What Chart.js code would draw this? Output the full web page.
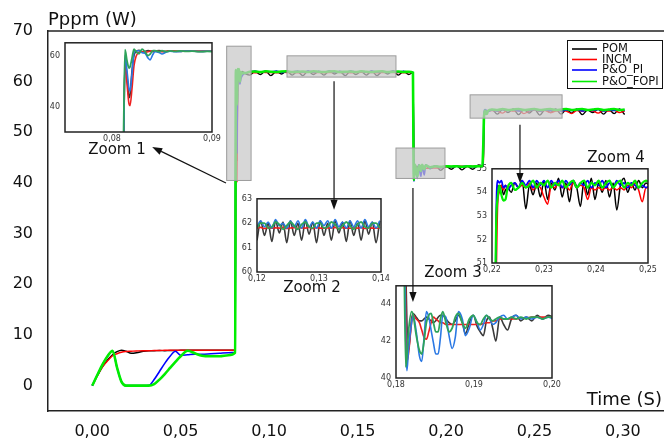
<!DOCTYPE html>
<html>
<head>
<meta charset="utf-8">
<script src="https://cdn.jsdelivr.net/npm/chart.js@4.4.1/dist/chart.umd.min.js"></script>
<style>
html, body { margin: 0; padding: 0; background: #fff; overflow: hidden; }
#wrap { position: relative; width: 664px; height: 439px; overflow: hidden; }
.inset { position: absolute; z-index: 1; }
#main { position: absolute; left: 0; top: 0; z-index: 2; }
</style>
</head>
<body>
<div id="wrap">
  <canvas id="z1" class="inset"></canvas>
  <canvas id="z2" class="inset"></canvas>
  <canvas id="z3" class="inset"></canvas>
  <canvas id="z4" class="inset"></canvas>
  <canvas id="main" width="680" height="439"></canvas>
</div>
<script>
(function () {

  "use strict";

  var seriesNames = ['POM', 'INCM', 'P&O_PI', 'P&O_FOPI'];

  // main chart ticks
  var xTicks = [0, 0.05, 0.10, 0.15, 0.20, 0.25, 0.30];
  var yTicks = [0, 10, 20, 30, 40, 50, 60, 70];

  // main chart, time (s)
  var mT = [
    0, 0.003, 0.006, 0.009, 0.0115, 0.014, 0.0165, 0.019, 0.022, 0.025, 0.029, 0.032, 0.035, 0.038, 0.041, 0.044, 0.047, 0.050, 0.054, 0.058, 0.062, 0.067, 0.072, 0.077, 0.0808,
    0.0812, 0.0815, 0.0818, 0.0822, 0.0826, 0.0830, 0.0835, 0.0840, 0.0848, 0.0856, 0.0865,
    0.089, 0.092, 0.095, 0.098, 0.101, 0.104, 0.107, 0.110, 0.113, 0.116, 0.119, 0.122, 0.125, 0.128, 0.131, 0.134, 0.137, 0.140, 0.143, 0.146, 0.149, 0.152, 0.155, 0.158, 0.161, 0.164, 0.167, 0.170, 0.173, 0.176, 0.179,
    0.1813, 0.1816, 0.18175, 0.1819, 0.1821, 0.1825, 0.1831, 0.1838, 0.1844, 0.1850, 0.1858, 0.1865, 0.1877, 0.1885,
    0.191, 0.194, 0.197, 0.200, 0.203, 0.206, 0.209, 0.212, 0.215, 0.218, 0.2205,
    0.2211, 0.2214, 0.2217, 0.2220, 0.2224, 0.2228, 0.2232, 0.2236,
    0.226, 0.229, 0.232, 0.235, 0.238, 0.241, 0.244, 0.247, 0.250, 0.253, 0.256, 0.259, 0.262, 0.265, 0.268, 0.271, 0.274, 0.277, 0.280, 0.283, 0.286, 0.289, 0.292, 0.295, 0.298, 0.301
  ];

  var pom = [
    0, 2.0, 3.8, 5.2, 6.1, 6.7, 7.0, 6.8, 6.4, 6.5, 6.8, 6.9, 6.9, 6.95, 6.9, 6.95, 6.95, 7.0, 7.0, 7.0, 7.0, 7.0, 7.0, 7.0, 7.0,
    59, 52, 44.5, 60, 62, 61.4, 61.8, 61.6, 62, 61.8, 61.6,
    61.3, 62.0, 61.4, 62.1, 61.2, 62.0, 61.5, 62.1, 61.3, 62.0, 61.2, 62.1, 61.4, 62.0, 61.3, 62.1, 61.5, 62.0, 61.2, 62.1, 61.4, 62.0, 61.3, 62.1, 61.2, 62.0, 61.5, 62.1, 61.3, 62.0, 61.4,
    61.8, 52, 46, 43, 41.5, 43.2, 43.3, 43.1, 43.3, 43.1, 43.2, 43.4, 42.9, 43.4,
    42.8, 43.4, 42.5, 43.3, 42.7, 43.4, 42.6, 43.3, 42.7, 43.4, 43.2,
    45, 52, 54.3, 54.2, 54.3, 53.9, 54.1, 54.2,
    54.5, 53.6, 54.5, 53.9, 54.6, 53.5, 54.5, 53.8, 54.6, 53.4, 54.5, 53.9, 54.6, 53.6, 54.5, 53.8, 54.6, 53.5, 54.4, 53.9, 54.6, 53.6, 54.5, 53.7, 54.6, 53.5
  ];

  var incm = [
    0, 2.0, 3.8, 5.0, 5.9, 6.3, 6.6, 6.75, 6.8, 6.85, 6.9, 6.9, 6.95, 6.95, 7.0, 7.0, 7.0, 7.0, 7.0, 7.0, 7.0, 7.0, 7.0, 7.0, 7.0,
    58, 49, 40.3, 56, 61.3, 61.6, 61.4, 61.8, 61.6, 61.8, 61.7,
    61.8, 61.75, 61.85, 61.8, 61.8, 61.75, 61.85, 61.8, 61.8, 61.75, 61.8, 61.85, 61.8, 61.8, 61.75, 61.8, 61.85, 61.8, 61.8, 61.75, 61.8, 61.85, 61.8, 61.8, 61.75, 61.8, 61.85, 61.8, 61.8, 61.75, 61.8,
    61.8, 52, 44, 40.9, 41.3, 43.0, 43.2, 42.6, 42.1, 43.0, 43.1, 43.0, 42.9, 42.9,
    42.9, 42.95, 43.0, 43.2, 43.25, 43.3, 43.3, 43.25, 43.3, 43.3, 43.3,
    44, 50, 53.5, 54.0, 54.3, 54.1, 54.3, 54.2,
    54.3, 54.2, 53.8, 54.4, 54.2, 54.3, 53.7, 54.2, 54.4, 54.2, 54.3, 53.9, 54.2, 54.3, 54.2, 53.7, 54.3, 54.2, 54.4, 54.2, 53.8, 54.3, 54.2, 54.4, 53.9, 54.2
  ];

  var poPi = [
    0, 2.2, 4.3, 6.0, 6.9, 3.6, 0.8, 0, 0, 0, 0, 0.05, 1.2, 2.8, 4.4, 5.8, 6.8, 6.0, 6.1, 6.2, 6.2, 6.3, 6.4, 6.5, 6.6,
    60, 54, 46, 61.2, 61.9, 61.1, 59.5, 60.5, 61.2, 61.5, 61.7,
    61.9, 62.1, 61.85, 62.05, 61.9, 62.1, 61.8, 62.05, 61.9, 62.1, 61.85, 62.1, 61.9, 62.05, 61.85, 62.1, 61.9, 62.05, 61.8, 62.1, 61.9, 62.05, 61.85, 62.1, 61.9, 62.05, 61.85, 62.1, 61.9, 62.05, 61.9,
    61.8, 50, 42, 40.4, 41.5, 43.0, 42.5, 40.9, 43.6, 42.6, 41.3, 43.4, 41.6, 43.6,
    42.9, 43.4, 43.0, 43.3, 43.2, 43.3, 43.2, 43.35, 43.2, 43.3, 43.3,
    46, 53, 54.5, 54.4, 54.5, 54.2, 54.3, 54.1,
    54.4, 54.2, 54.5, 54.3, 54.5, 54.2, 54.4, 54.3, 54.5, 54.2, 54.4, 54.3, 54.5, 54.2, 54.4, 54.3, 54.5, 54.2, 54.4, 54.3, 54.5, 54.2, 54.4, 54.3, 54.5, 54.3
  ];

  var poFopi = [
    0, 2.2, 4.3, 6.0, 6.9, 3.6, 0.8, 0, 0, 0, 0, 0, 0.3, 1.2, 2.3, 3.5, 4.7, 5.8, 6.9, 6.4, 5.9, 5.8, 5.8, 6.0, 6.5,
    62.3, 58, 55.5, 62.5, 60.7, 62.5, 60.0, 61.9, 61.6, 61.8, 61.7,
    61.95, 62.0, 61.9, 62.05, 61.95, 61.9, 62.0, 62.05, 61.9, 61.95, 62.0, 61.9, 62.05, 61.95, 61.9, 62.0, 62.05, 61.9, 61.95, 62.0, 61.9, 62.05, 61.95, 61.9, 62.0, 62.05, 61.9, 61.95, 62.0, 61.9, 61.95,
    61.8, 46, 40.6, 41.2, 42.5, 43.6, 42.3, 41.3, 43.0, 43.5, 42.4, 43.6, 42.7, 43.5,
    43.1, 43.3, 43.2, 43.3, 43.25, 43.3, 43.2, 43.3, 43.25, 43.3, 43.3,
    48, 52.7, 53.8, 54.3, 53.9, 53.65, 53.7, 54.2,
    54.5, 54.4, 54.6, 54.4, 54.5, 54.6, 54.4, 54.5, 54.6, 54.4, 54.5, 54.6, 54.4, 54.5, 54.6, 54.4, 54.5, 54.6, 54.4, 54.5, 54.6, 54.4, 54.5, 54.6, 54.4, 54.5
  ];

  // zoom 1
  var t1 = [0.0800, 0.0811, 0.0813, 0.0815, 0.0817, 0.0818, 0.0820, 0.0822, 0.0824, 0.0827, 0.0830, 0.0833, 0.0836, 0.0838, 0.0841, 0.0843, 0.0847, 0.0850, 0.0854, 0.0858, 0.0863, 0.0868, 0.0874, 0.0880, 0.0887, 0.0895, 0.0905];
  var pom1 = [7, 7, 59, 52, 43.5, 44.5, 54, 60, 61.6, 62.1, 61.4, 61.6, 62, 61.8, 61.5, 61.8, 62, 61.7, 61.6, 61.9, 61.7, 61.6, 61.8, 61.7, 61.6, 61.7, 61.6];
  var incm1 = [7, 7, 58, 49, 41, 40.3, 47, 56, 59.6, 61.3, 61.6, 61.2, 61.5, 61.7, 61.9, 61.8, 61.6, 61.5, 61.7, 61.9, 61.8, 61.7, 61.8, 61.7, 61.8, 61.7, 61.7];
  var pi1 = [7, 7, 60, 54, 47, 46, 53, 61.2, 61.8, 61.9, 61.1, 60.9, 59, 58.3, 60.5, 61.5, 61.2, 60.6, 61.3, 61.7, 61.5, 61.6, 61.8, 61.7, 61.6, 61.7, 61.7];
  var fopi1 = [7, 20, 62.3, 58, 55.1, 55.5, 59, 62.5, 61.5, 60.7, 62.5, 61.5, 60, 60.5, 61.9, 61.9, 61.5, 61.9, 61.5, 61.8, 61.6, 61.8, 61.6, 61.7, 61.5, 61.6, 61.5];

  // zoom 2
  var t2 = [0.1200, 0.1206, 0.1212, 0.1218, 0.1224, 0.1230, 0.1236, 0.1242, 0.1248, 0.1254, 0.1260, 0.1266, 0.1272, 0.1278, 0.1284, 0.1290, 0.1296, 0.1302, 0.1308, 0.1314, 0.1320, 0.1326, 0.1332, 0.1338, 0.1344, 0.1350, 0.1356, 0.1362, 0.1368, 0.1374, 0.1380, 0.1386, 0.1392, 0.1398];
  var pom2 = [61.3, 62.1, 61.5, 62.0, 61.25, 62.1, 61.6, 62.05, 61.2, 62.1, 61.5, 62.0, 61.3, 62.1, 61.55, 62.05, 61.2, 62.1, 61.5, 62.0, 61.3, 62.1, 61.6, 62.05, 61.25, 62.1, 61.5, 62.0, 61.3, 62.1, 61.55, 62.05, 61.2, 62.1];
  var incm2 = [61.8, 61.83, 61.78, 61.82, 61.79, 61.81, 61.8, 61.83, 61.78, 61.8, 61.82, 61.79, 61.81, 61.8, 61.83, 61.78, 61.82, 61.8, 61.79, 61.81, 61.8, 61.83, 61.78, 61.82, 61.8, 61.79, 61.81, 61.8, 61.83, 61.78, 61.82, 61.8, 61.79, 61.81];
  var pi2 = [61.85, 62.1, 61.85, 62.05, 61.8, 62.15, 61.9, 62.0, 61.8, 62.1, 61.85, 62.1, 61.8, 62.15, 61.85, 62.05, 61.8, 62.1, 61.9, 62.1, 61.8, 62.15, 61.85, 62.05, 61.8, 62.1, 61.85, 62.1, 61.8, 62.15, 61.85, 62.05, 61.8, 62.1];
  var fopi2 = [61.8, 62.0, 62.0, 61.8, 61.85, 62.05, 61.95, 61.75, 61.9, 62.05, 61.9, 61.75, 61.95, 62.05, 61.85, 61.8, 62.0, 62.0, 61.8, 61.85, 62.05, 61.95, 61.75, 61.9, 62.05, 61.9, 61.75, 61.95, 62.05, 61.85, 61.8, 62.0, 62.0, 61.8];

  // zoom 3
  var t3 = [0.1805, 0.1810, 0.18125, 0.1814, 0.1816, 0.1820, 0.1822, 0.1826, 0.1830, 0.1833, 0.1836, 0.1839, 0.1842, 0.1845, 0.1848, 0.1851, 0.1854, 0.1857, 0.1860, 0.1864, 0.1868, 0.1872, 0.1876, 0.1880, 0.1885, 0.1889, 0.1894, 0.1899, 0.1904, 0.1908, 0.1912, 0.1916, 0.1920, 0.1924, 0.1928, 0.1933, 0.1938, 0.1943, 0.1948, 0.1954, 0.1960, 0.1967, 0.1974, 0.1981, 0.1988, 0.1995, 0.2002];
  var pom3 = [61.8, 55, 46, 43, 41.5, 43.2, 43.5, 43.3, 43.1, 43.1, 43.2, 43.3, 43.2, 43.1, 43.0, 43.1, 43.3, 43.4, 43.4, 43.2, 43.0, 42.9, 43.1, 43.4, 43.0, 42.4, 43.0, 43.4, 42.8, 42.5, 42.3, 43.1, 43.3, 42.7, 42.0, 43.3, 42.9, 42.6, 43.2, 43.4, 43.1, 43.3, 43.1, 43.4, 43.2, 43.4, 43.3];
  var incm3 = [61.8, 55, 44, 40.9, 41.3, 43.0, 43.4, 43.2, 43.0, 42.6, 42.2, 42.1, 42.5, 43.0, 43.3, 43.2, 43.1, 43.0, 43.0, 42.9, 42.9, 42.9, 42.9, 42.9, 42.9, 42.9, 42.9, 42.9, 42.9, 42.9, 42.95, 43.0, 43.0, 43.1, 43.1, 43.2, 43.2, 43.2, 43.2, 43.2, 43.25, 43.25, 43.3, 43.3, 43.3, 43.3, 43.3];
  var pi3 = [61.8, 52, 42, 40.4, 41.5, 43.0, 43.4, 42.5, 41.2, 40.9, 42.2, 43.6, 43.3, 42.6, 41.9, 41.3, 41.3, 42.2, 43.4, 43.3, 42.3, 41.6, 42.2, 43.6, 43.2, 42.3, 42.7, 43.4, 43.0, 42.6, 42.9, 43.4, 43.2, 42.9, 43.0, 43.3, 43.4, 43.2, 43.3, 43.4, 43.2, 43.3, 43.2, 43.3, 43.2, 43.3, 43.2];
  var fopi3 = [61.8, 48, 40.6, 41.2, 42.5, 43.6, 43.4, 42.3, 41.5, 41.3, 42.0, 43.0, 43.4, 43.5, 43.0, 42.5, 42.5, 43.2, 43.6, 43.0, 42.5, 42.7, 43.3, 43.5, 43.0, 42.7, 43.2, 43.4, 43.0, 42.9, 43.2, 43.4, 43.2, 43.1, 43.2, 43.3, 43.2, 43.2, 43.3, 43.2, 43.3, 43.2, 43.3, 43.3, 43.2, 43.3, 43.3];

  // zoom 4
  var t4 = [0.2195, 0.2205, 0.2208, 0.2211, 0.2214, 0.2218, 0.2222, 0.2226, 0.2230, 0.2237, 0.2244, 0.2251, 0.2258, 0.2265, 0.2272, 0.2279, 0.2286, 0.2293, 0.2300, 0.2307, 0.2314, 0.2321, 0.2328, 0.2335, 0.2342, 0.2349, 0.2356, 0.2363, 0.2370, 0.2377, 0.2384, 0.2391, 0.2398, 0.2405, 0.2412, 0.2419, 0.2426, 0.2433, 0.2440, 0.2447, 0.2454, 0.2461, 0.2468, 0.2475, 0.2482, 0.2489, 0.2496, 0.2503];
  var pom4 = [43.2, 45, 52, 54.3, 54.2, 54.3, 53.9, 54.1, 54.2, 54.0, 54.4, 54.2, 54.5, 53.3, 54.3, 53.9, 54.4, 53.8, 54.5, 53.7, 54.4, 54.1, 54.6, 53.8, 54.4, 53.6, 54.5, 54.2, 53.4, 54.5, 53.9, 54.6, 53.7, 54.4, 54.0, 54.5, 53.8, 54.4, 53.25, 54.3, 54.6, 54.0, 54.4, 54.1, 54.5, 54.2, 54.4, 54.3];
  var incm4 = [43.2, 44, 50, 53.5, 54.0, 54.3, 54.1, 54.3, 54.2, 54.3, 54.4, 54.2, 54.3, 54.2, 54.4, 54.1, 54.3, 54.2, 53.8, 53.5, 54.3, 54.2, 54.4, 54.2, 54.3, 54.1, 54.4, 54.2, 54.3, 54.2, 53.7, 54.2, 54.1, 54.2, 54.1, 54.2, 54.1, 54.2, 54.1, 54.2, 54.1, 54.3, 54.2, 54.4, 54.1, 53.6, 54.2, 54.2];
  var pi4 = [43.2, 46, 53, 54.5, 54.4, 54.5, 54.2, 54.3, 54.1, 54.3, 54.4, 54.2, 54.5, 54.3, 54.5, 54.2, 54.5, 54.3, 54.5, 54.2, 54.5, 54.3, 54.5, 54.2, 54.5, 54.3, 54.5, 54.2, 54.4, 54.3, 54.5, 54.2, 54.4, 54.3, 54.5, 54.2, 54.4, 54.2, 54.5, 54.3, 54.4, 54.2, 54.4, 54.3, 54.2, 54.3, 54.2, 54.3];
  var fopi4 = [43.2, 48, 52.7, 53.8, 54.3, 53.9, 53.65, 53.7, 54.2, 54.4, 54.1, 54.2, 54.4, 54.2, 54.3, 54.5, 54.2, 54.4, 54.3, 54.5, 54.2, 54.4, 54.3, 54.5, 54.2, 54.4, 54.5, 54.2, 54.4, 54.5, 54.2, 54.4, 54.3, 54.5, 54.2, 54.4, 54.5, 54.2, 54.4, 54.5, 54.2, 54.4, 54.3, 54.5, 54.2, 54.4, 54.5, 54.4];

  // grey zoom windows [t0, t1, p0, p1], arrows [t0, p0, t1, p1], labels [t, p]
  var zoomBoxes = [[0.0760, 0.0898, 40.5, 67.0], [0.1101, 0.1717, 60.9, 65.1], [0.1717, 0.1994, 40.9, 46.9], [0.2136, 0.2656, 52.8, 57.4]];
  var zoomArrows = [[0.0756, 40.0, 0.0339, 47.1], [0.1367, 60.1, 0.1367, 34.7], [0.1813, 39.0, 0.1813, 16.5], [0.2418, 51.5, 0.2418, 40.0]];
  var zoomLabels = [[0.0140, 46.5], [0.1242, 19.3], [0.2039, 22.2], [0.2961, 44.9]];


  Chart.defaults.font.family = '"DejaVu Sans", sans-serif';
  Chart.defaults.color = '#111';

  var mainColors = ['#000000', '#ff0000', '#0000ff', '#00ee00'];
  var mainWidths = [1.4, 1.4, 1.6, 2.6];
  var softColors = ['#3a3a3a', '#ee2020', '#2a78e4', '#2ea35a'];

  function pts(T, V) {
    return T.map(function (t, i) { return { x: t, y: V[i] }; });
  }

  function comma2(v) { return v.toFixed(2).replace('.', ','); }

  function arrow(ctx, x0, y0, x1, y1) {
    var a = Math.atan2(y1 - y0, x1 - x0), L = 10, W = 3.6;
    var bx = x1 - L * Math.cos(a), by = y1 - L * Math.sin(a);
    ctx.beginPath(); ctx.moveTo(x0, y0); ctx.lineTo(bx, by); ctx.stroke();
    ctx.beginPath();
    ctx.moveTo(x1, y1);
    ctx.lineTo(bx + W * Math.sin(a), by - W * Math.cos(a));
    ctx.lineTo(bx - W * Math.sin(a), by + W * Math.cos(a));
    ctx.closePath(); ctx.fill();
  }

  var mainDecor = {
    id: 'mainDecor',
    afterDatasetsDraw: function (chart) {
      var ctx = chart.ctx, a = chart.chartArea;
      var xs = chart.scales.x, ys = chart.scales.y;
      ctx.save();

      zoomBoxes.forEach(function (b) {
        var x0 = xs.getPixelForValue(b[0]), x1 = xs.getPixelForValue(b[1]);
        var y0 = ys.getPixelForValue(b[3]), y1 = ys.getPixelForValue(b[2]);
        ctx.fillStyle = 'rgba(200,200,200,0.72)';
        ctx.fillRect(x0, y0, x1 - x0, y1 - y0);
        ctx.strokeStyle = '#9c9c9c';
        ctx.lineWidth = 1;
        ctx.strokeRect(x0, y0, x1 - x0, y1 - y0);
      });

      ctx.strokeStyle = '#111';
      ctx.fillStyle = '#111';
      ctx.lineWidth = 1.2;
      zoomArrows.forEach(function (r) {
        arrow(ctx, xs.getPixelForValue(r[0]), ys.getPixelForValue(r[1]), xs.getPixelForValue(r[2]), ys.getPixelForValue(r[3]));
      });

      // top frame
      ctx.strokeStyle = '#222';
      ctx.lineWidth = 1.5;
      ctx.beginPath(); ctx.moveTo(a.left, a.top); ctx.lineTo(a.right, a.top); ctx.stroke();

      ctx.fillStyle = '#111';
      ctx.font = '15px "DejaVu Sans"';
      ctx.textAlign = 'center';
      ctx.textBaseline = 'middle';
      zoomLabels.forEach(function (p, i) {
        ctx.fillText('Zoom ' + (i + 1), xs.getPixelForValue(p[0]), ys.getPixelForValue(p[1]));
      });

      ctx.font = '18px "DejaVu Sans"';
      ctx.textBaseline = 'alphabetic';
      ctx.textAlign = 'left';
      ctx.fillText('Pppm (W)', 48, 25);
      ctx.textAlign = 'right';
      ctx.fillText('Time (S)', 662, 405);

      // legend
      ctx.fillStyle = '#fff';
      ctx.fillRect(567, 40, 95, 48);
      ctx.strokeStyle = '#111';
      ctx.lineWidth = 1;
      ctx.strokeRect(567.5, 40.5, 95, 48);
      var rows = [49, 59.5, 70, 81.5];
      ctx.font = '11.5px "DejaVu Sans"';
      ctx.textAlign = 'left';
      ctx.textBaseline = 'middle';
      chart.data.datasets.forEach(function (ds, i) {
        ctx.strokeStyle = ds.borderColor;
        ctx.lineWidth = 1.6;
        ctx.beginPath(); ctx.moveTo(572, rows[i]); ctx.lineTo(597, rows[i]); ctx.stroke();
        ctx.fillStyle = '#111';
        ctx.fillText(ds.label, 602, rows[i] + 0.5);
      });

      ctx.restore();
    }
  };

  var mainSeries = [pom, incm, poPi, poFopi];

  new Chart(document.getElementById('main'), {
    type: 'line',
    data: {
      datasets: mainSeries.map(function (v, i) {
        return {
          label: seriesNames[i], data: pts(mT, v), borderColor: mainColors[i], borderWidth: mainWidths[i],
          pointRadius: 0, fill: false, cubicInterpolationMode: 'monotone', order: 3 - i
        };
      })
    },
    options: {
      responsive: false, animation: false, devicePixelRatio: 1, events: [],
      layout: { padding: { top: 31, right: 4, left: 0, bottom: 0 } },
      plugins: { legend: { display: false }, tooltip: { enabled: false } },
      scales: {
        x: {
          type: 'linear', min: -0.025, max: 0.33,
          afterBuildTicks: function (s) { s.ticks = xTicks.map(function (v) { return { value: v }; }); },
          afterFit: function (s) { s.height = 28; },
          ticks: { font: { size: 16 }, color: '#111', padding: 11, maxRotation: 0, autoSkip: false, callback: comma2 },
          grid: { display: false, drawTicks: false },
          border: { display: true, color: '#222', width: 1.5 }
        },
        y: {
          type: 'linear', min: -5, max: 70,
          afterBuildTicks: function (s) { s.ticks = yTicks.map(function (v) { return { value: v }; }); },
          afterFit: function (s) { s.width = 48; },
          ticks: { font: { size: 16 }, color: '#111', padding: 15, autoSkip: false },
          grid: { display: false, drawTicks: false },
          border: { display: true, color: '#222', width: 1.5 }
        }
      }
    },
    plugins: [mainDecor]
  });


  // insets
  var PAD = { l: 24, t: 8, r: 14, b: 14 };

  var insetFrame = {
    id: 'insetFrame',
    afterDraw: function (chart) {
      var a = chart.chartArea, ctx = chart.ctx;
      ctx.save();
      ctx.strokeStyle = '#222';
      ctx.lineWidth = 1.5;
      ctx.strokeRect(a.left, a.top, a.right - a.left, a.bottom - a.top);
      ctx.restore();
    }
  };

  var insets = [
    { id: 'z1', box: [65, 41, 147, 91], x: [0.0753, 0.09], y: [30, 65], xt: [0.08, 0.09], yt: [40, 60],
      t: t1, v: [pom1, incm1, pi1, fopi1], colors: softColors, widths: [1.6, 1.6, 1.6, 1.8] },
    { id: 'z2', box: [257, 197, 124, 75], x: [0.12, 0.14], y: [60, 63], xt: [0.12, 0.13, 0.14], yt: [60, 61, 62, 63],
      t: t2, v: [pom2, incm2, pi2, fopi2], colors: softColors, widths: [1.6, 1.6, 1.6, 1.8] },
    { id: 'z3', box: [396, 284, 156, 94], x: [0.18, 0.20], y: [40, 45], xt: [0.18, 0.19, 0.20], yt: [40, 42, 44],
      t: t3, v: [pom3, incm3, pi3, fopi3], colors: softColors, widths: [1.6, 1.6, 1.6, 1.8] },
    { id: 'z4', box: [492, 167, 156, 96], x: [0.22, 0.25], y: [51, 55], xt: [0.22, 0.23, 0.24, 0.25], yt: [51, 52, 53, 54, 55],
      t: t4, v: [pom4, incm4, pi4, fopi4], colors: mainColors, widths: [1.5, 1.5, 1.7, 2.2] }
  ];

  insets.forEach(function (z) {
    var c = document.getElementById(z.id);
    c.width = z.box[2] + PAD.l + PAD.r;
    c.height = z.box[3] + PAD.t + PAD.b;
    c.style.left = (z.box[0] - PAD.l) + 'px';
    c.style.top = (z.box[1] - PAD.t) + 'px';

    new Chart(c, {
      type: 'line',
      data: {
        datasets: z.v.map(function (v, i) {
          return {
            label: seriesNames[i], data: pts(z.t, v), borderColor: z.colors[i], borderWidth: z.widths[i],
            pointRadius: 0, fill: false, cubicInterpolationMode: 'monotone', order: 3 - i
          };
        })
      },
      options: {
        responsive: false, animation: false, devicePixelRatio: 1, events: [],
        layout: { padding: { top: PAD.t, right: PAD.r, left: 0, bottom: 0 } },
        plugins: { legend: { display: false }, tooltip: { enabled: false } },
        scales: {
          x: {
            type: 'linear', min: z.x[0], max: z.x[1],
            afterBuildTicks: function (s) { s.ticks = z.xt.map(function (v) { return { value: v }; }); },
            afterFit: function (s) { s.height = PAD.b; },
            ticks: { font: { size: 8 }, color: '#333', padding: 2, maxRotation: 0, autoSkip: false, callback: comma2 },
            grid: { display: false, drawTicks: false },
            border: { display: false }
          },
          y: {
            type: 'linear', min: z.y[0], max: z.y[1],
            afterBuildTicks: function (s) { s.ticks = z.yt.map(function (v) { return { value: v }; }); },
            afterFit: function (s) { s.width = PAD.l; },
            ticks: { font: { size: 8 }, color: '#333', padding: 5, autoSkip: false },
            grid: { display: false, drawTicks: false },
            border: { display: false }
          }
        }
      },
      plugins: [insetFrame]
    });
  });

})();
</script>
</body>
</html>
